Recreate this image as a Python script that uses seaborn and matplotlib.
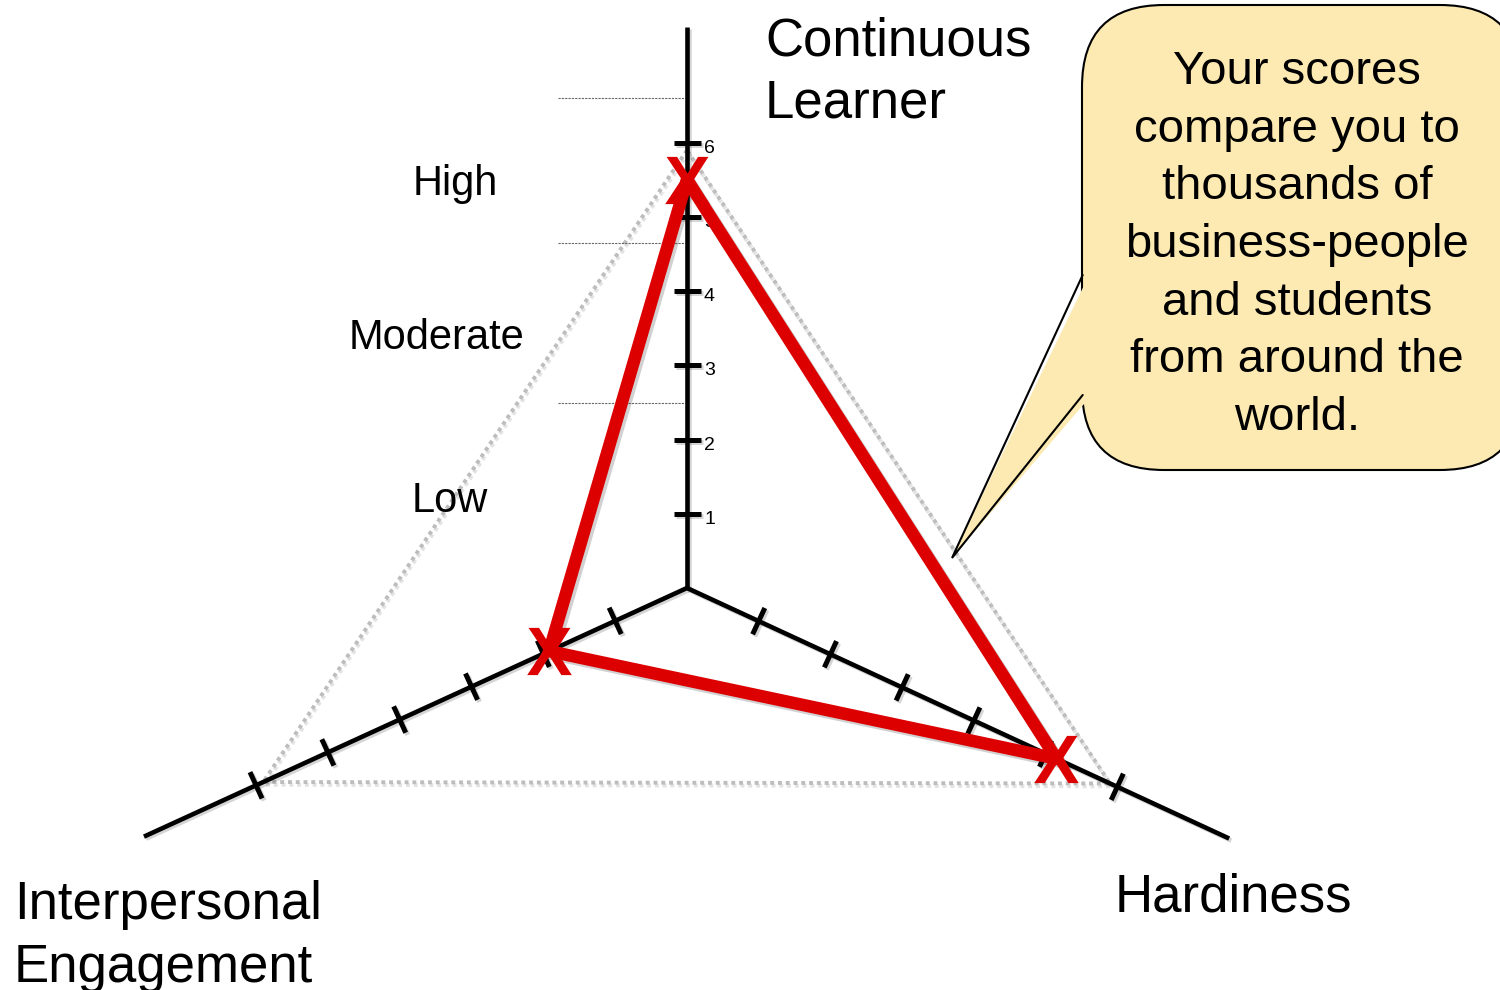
import numpy as np
import pandas as pd
import matplotlib
matplotlib.use("Agg")
import matplotlib.pyplot as plt
import seaborn as sns
from matplotlib.patches import FancyBboxPatch, Polygon
from matplotlib.textpath import TextPath
from matplotlib.font_manager import FontProperties
from matplotlib.path import Path
from matplotlib.markers import MarkerStyle
import matplotlib.patheffects as pe

# ---------------- data ----------------
dimensions = ["Continuous Learner", "Interpersonal Engagement", "Hardiness"]
axis_label_lines = [["Continuous", "Learner"], ["Interpersonal", "Engagement"], ["Hardiness"]]
scores = [5.5, 1.92, 5.15]
scale_ticks = [1, 2, 3, 4, 5, 6]
tick_labels = ["1", "2", "3", "4", "5", "6"]
max_reference = [5.9, 5.9, 5.9]
band_names = ["Low", "Moderate", "High"]
band_bounds = [2.5, 4.65, 6.6]
axis_max = 7.56
callout_lines = ["Your scores", "compare you to", "thousands of",
                 "business-people", "and students", "from around the", "world."]

# ---------------- setup ----------------
sns.set_theme(style="white")
plt.rcParams["font.family"] = ["Liberation Sans", "DejaVu Sans"]
plt.rcParams["text.color"] = "black"

W, H = 1500, 990
fig = plt.figure(figsize=(15, 9.9), dpi=100)
ax = fig.add_axes([0, 0, 1, 1])

origin = np.array([687.0, 588.0])
angles = np.deg2rad([90.0, 204.6, 335.2])
unit = np.array([74.2, 79.0, 79.0])
dirs = np.stack([np.cos(angles), -np.sin(angles)], axis=1)


def pos(i, v):
    return origin + dirs[i] * unit[i] * v


shadow = [pe.SimpleLineShadow(offset=(1.5, -1.5), shadow_color="k", alpha=0.18), pe.Normal()]

# dotted reference triangle
ref_pts = np.array([pos(i, v) for i, v in enumerate(max_reference)])
ref_pts = np.vstack([ref_pts, ref_pts[:1]])
ax.plot(ref_pts[:, 0], ref_pts[:, 1], color="#BDBDBD", lw=2.8,
        linestyle=(0, (1, 1)), dash_capstyle="butt", zorder=1,
        path_effects=[pe.SimpleLineShadow(offset=(1, -2), shadow_color="k", alpha=0.12), pe.Normal()])

# band separators (left of vertical axis)
for b in band_bounds:
    p = pos(0, b)
    ax.plot([558, p[0] - 2], [p[1], p[1]], color="#666666", lw=0.8,
            linestyle=(0, (2, 1)), zorder=1)

# band labels
band_label_pos = [(450, 512), (437, 349), (455, 195)]
for name, (bx, by) in zip(band_names, band_label_pos):
    ax.text(bx, by, name, fontsize=30, ha="center", va="baseline", color="black")

# axes
for i in range(3):
    e = pos(i, axis_max)
    ax.plot([origin[0], e[0]], [origin[1], e[1]], color="black", lw=3.3,
            solid_capstyle="butt", zorder=2, path_effects=shadow)
    perp = np.array([-dirs[i][1], dirs[i][0]])
    half = 13.5 if i == 0 else 14.5
    for t in scale_ticks:
        c = pos(i, t)
        a, b2 = c - perp * half, c + perp * half
        ax.plot([a[0], b2[0]], [a[1], b2[1]], color="black", lw=3.6,
                solid_capstyle="butt", zorder=2, path_effects=shadow)

# tick labels on vertical axis
for t, lab in zip(scale_ticks, tick_labels):
    c = pos(0, t)
    ax.text(c[0] + 17, c[1] + 10, lab, fontsize=14, ha="left", va="baseline", color="black")

# red score triangle
pts = np.array([pos(i, v) for i, v in enumerate(scores)])
df = pd.DataFrame({"x": list(pts[:, 0]) + [pts[0, 0]],
                   "y": list(pts[:, 1]) + [pts[0, 1]]})
sns.lineplot(data=df, x="x", y="y", sort=False, estimator=None, color="#DD0000",
             lw=9, ax=ax, legend=False, zorder=4, solid_joinstyle="miter",
             path_effects=[pe.SimpleLineShadow(offset=(2, -2), shadow_color="k", alpha=0.2), pe.Normal()])

# X markers
tp = TextPath((0, 0), "X", prop=FontProperties(family="Liberation Sans", weight="bold"), size=10)
ext = tp.get_extents()
cen = np.array([(ext.x0 + ext.x1) / 2, (ext.y0 + ext.y1) / 2])
verts = tp.vertices.copy() - cen
codes = tp.codes.copy() if tp.codes is not None else None
if codes is not None:
    verts[codes == Path.CLOSEPOLY] = 0.0
xpath = Path(verts, codes)
sns.scatterplot(x=pts[:, 0], y=pts[:, 1], marker=MarkerStyle(xpath), s=34 ** 2,
                color="#DD0000", linewidth=0, ax=ax, zorder=5, legend=False)

# axis titles
ax.text(765, 55, axis_label_lines[0][0], fontsize=38, ha="left", va="baseline", color="black")
ax.text(765, 118, axis_label_lines[0][1], fontsize=38, ha="left", va="baseline", color="black")
ax.text(14, 919, axis_label_lines[1][0], fontsize=38, ha="left", va="baseline", color="black")
ax.text(14, 982, axis_label_lines[1][1], fontsize=38, ha="left", va="baseline", color="black")
ax.text(1115, 912, axis_label_lines[2][0], fontsize=38, ha="left", va="baseline", color="black")

# callout bubble
fill = "#FCEAB2"
box = FancyBboxPatch((1082, 5), 440, 465, boxstyle="round,pad=0,rounding_size=82",
                     fc=fill, ec="black", lw=1.5, zorder=6, clip_on=False)
ax.add_patch(box)
tail = Polygon([[1090, 273], [952, 558], [1090, 397]], closed=True, fc=fill, ec="none", zorder=7)
ax.add_patch(tail)
ax.plot([1082.7, 952, 1082.7], [275, 558, 395], color="black", lw=1.5, zorder=8,
        solid_joinstyle="miter")
for k, line in enumerate(callout_lines):
    ax.text(1297, 84 + 57.7 * k, line, fontsize=34, ha="center", va="baseline",
            zorder=9, color="black")

ax.set_xlim(0, W)
ax.set_ylim(H, 0)
ax.axis("off")
fig.savefig("out.png", dpi=100)
